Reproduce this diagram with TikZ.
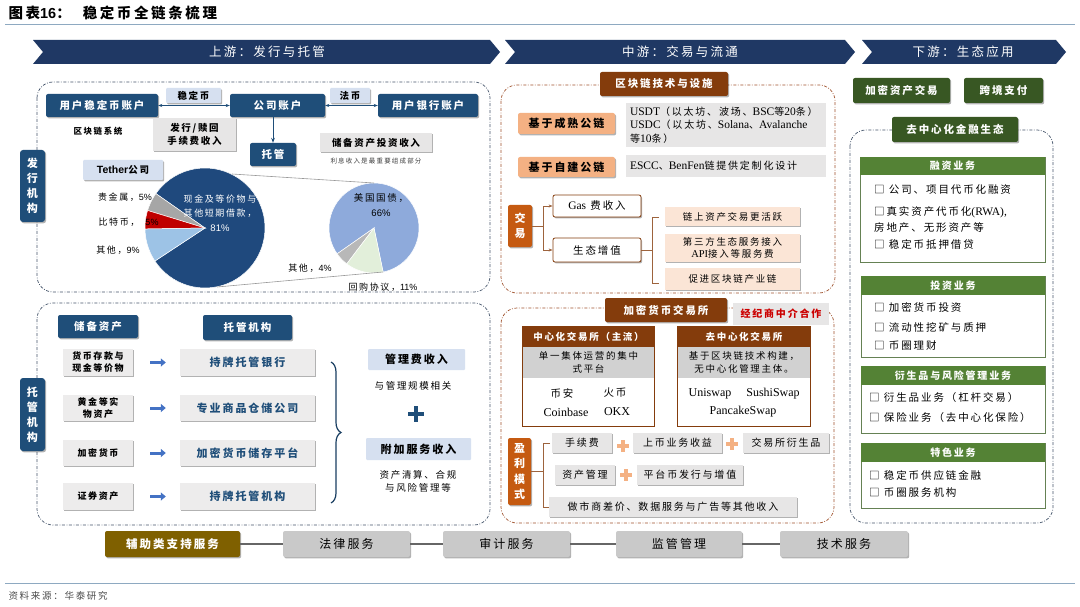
\documentclass[tikz,border=0pt]{standalone}
\usepackage{fontspec}
\setmainfont{Noto Sans CJK SC}[LetterSpace=18]
\newfontfamily\lat{Liberation Serif}
\newfontfamily\las{Liberation Sans}
\usetikzlibrary{shadows,arrows.meta,decorations.pathreplacing,calc}
\definecolor{navy}{HTML}{1F3864}
\definecolor{dblue}{HTML}{1F4E79}
\definecolor{lblue}{HTML}{D6E0F0}
\definecolor{lgray}{HTML}{E7E6E6}
\definecolor{brn}{HTML}{843C0C}
\definecolor{org}{HTML}{C55A11}
\definecolor{salmon}{HTML}{F4B183}
\definecolor{peach}{HTML}{FBE5D6}
\definecolor{dgreen}{HTML}{385723}
\definecolor{mgreen}{HTML}{548235}
\definecolor{olive}{HTML}{7F6000}
\definecolor{sgray}{HTML}{C9C9C9}
\definecolor{abl}{HTML}{4472C4}
\definecolor{pdk}{HTML}{1F497D}
\definecolor{plb}{HTML}{9DC3E6}
\definecolor{pred}{HTML}{C00000}
\definecolor{pgr}{HTML}{A6A6A6}
\definecolor{pbl}{HTML}{8EAADB}
\definecolor{pgn}{HTML}{E2EFDA}
\definecolor{rulec}{HTML}{8EA9C1}
\definecolor{regb}{HTML}{44546A}
\definecolor{regr}{HTML}{A0522D}
\newcommand\fs[2]{\fontsize{#1}{#2}\selectfont}
\newcommand\bx[7]{\node[minimum width={#5-#3},minimum height={#6-#4},inner sep=0pt,align=center,#2] (#1) at ({(#3+#5)/2},{(#4+#6)/2}) {#7};}
\newcommand\slice[6]{\fill[#6,draw=white,line width=.5pt] (#1,#2) -- plot[domain=#4:#5,samples=60] ({#1+#3*cos(\x)},{#2-#3*sin(\x)}) -- cycle;}
\begin{document}
\begin{tikzpicture}[x=1pt,y=-1pt,
 shd/.style={drop shadow={shadow xshift=1.2pt,shadow yshift=-1.4pt,opacity=.3,fill=black}},
 bbox/.style={fill=dblue,text=white,rounded corners=2pt,shd,font=\bfseries\fs{10.5}{13}},
 vbox/.style={fill=dblue,text=white,rounded corners=3pt,shd,font=\bfseries\fs{11}{15}},
 lbox/.style={fill=lblue,text=black,rounded corners=1pt,shd,font=\bfseries\fs{9.5}{11}},
 gbox/.style={fill=lgray,text=black,shd,font=\bfseries\fs{9.5}{13}},
 rowl/.style={fill=lgray!75,text=black,shd,font=\bfseries\fs{9}{12}},
 rowr/.style={fill=lgray!75,text=dblue,shd,font=\bfseries\fs{11}{13}},
 inc/.style={fill=lblue,text=black,rounded corners=1pt,font=\bfseries\fs{11}{12}},
 txt/.style={font=\fs{9}{12}},
 brbox/.style={fill=brn,text=white,rounded corners=2pt,shd,font=\bfseries\fs{10.5}{13}},
 obox/.style={fill=org,text=white,rounded corners=2pt,shd,font=\bfseries\fs{11}{15.5}},
 sbox/.style={fill=salmon,text=black,rounded corners=2pt,shd,font=\bfseries\fs{11}{13}},
 gtx/.style={fill=lgray,text=black,text width=192pt,align=left,font=\fs{10}{13.5}},
 wbox/.style={fill=white,draw=brn,line width=.8pt,rounded corners=2pt,shd,font=\fs{10.5}{13}},
 pbox/.style={fill=peach,shd,font=\fs{9.5}{12}},
 rbox/.style={fill=lgray,text=red!80!black,font=\bfseries\fs{10}{12}},
 hdr/.style={fill=brn,text=white,font=\bfseries\fs{9.5}{12}},
 band/.style={fill=black!18,text=black,font=\fs{9.5}{12.5}},
 pnlb/.style={fill=white,shd},
 mbox/.style={fill=lgray,shd,font=\fs{10}{12}},
 grbox/.style={fill=dgreen,text=white,rounded corners=2pt,shd,font=\bfseries\fs{10.5}{13}},
 pnl/.style={fill=white,draw=mgreen!60!gray,line width=.8pt,shd},
 pnlh/.style={fill=mgreen,text=white,font=\bfseries\fs{10}{12}},
 item/.style={anchor=west,inner sep=0pt,font=\fs{10.5}{15}},
 sv/.style={fill=sgray,text=black,rounded corners=2pt,shd,font=\fs{12}{13}},
 ol/.style={fill=olive,text=white,rounded corners=2pt,shd,font=\bfseries\fs{11.5}{13}},
 reg/.style={dash pattern=on 3pt off 1.6pt on .8pt off 1.6pt,line width=.7pt,rounded corners=16pt},
 brl/.style={brn!80,line width=.8pt},
 barr/.style={abl,line width=3pt,-{Triangle[length=5pt,width=8pt]}},
 dar/.style={dblue,line width=.7pt,{Stealth[length=4pt]}-{Stealth[length=4pt]}}
]
\useasboundingbox (0,0) rectangle (1080,607);
\fill[white] (0,0) rectangle (1080,607);
% title
\node[anchor=west,font=\bfseries\fs{14.5}{16}] (ttl) at (5,13) {图表{\las\bfseries 16}：\hspace{12pt}稳定币全链条梳理};
\draw[rulec,line width=1pt] (5,25) -- (1075,25);
\draw[rulec,line width=1pt] (5,583) -- (1075,583);
\node[anchor=west,font=\fs{9.5}{11},text=black!70] (src) at (5,596) {资料来源：华泰研究};
% banners
\fill[navy] (33,40) -- (490,40) -- (500,52) -- (490,64) -- (33,64) -- (43,52) -- cycle;
\fill[navy] (505,40) -- (845,40) -- (855,52) -- (845,64) -- (505,64) -- (515,52) -- cycle;
\fill[navy] (862,40) -- (1056,40) -- (1066,52) -- (1056,64) -- (862,64) -- (872,52) -- cycle;
\node[text=white,font=\fs{12.5}{14}] (bn1) at (267,52) {上游：发行与托管};
\node[text=white,font=\fs{12.5}{14}] (bn2) at (680,52) {中游：交易与流通};
\node[text=white,font=\fs{12.5}{14}] (bn3) at (963,52) {下游：生态应用};
% ===== upper left =====
\draw[reg,regb] (37,82) rectangle (490,292);
\draw[reg,regb] (37,303) rectangle (490,525);
\bx{ua}{bbox}{46}{94}{158}{117}{用户稳定币账户}
\bx{ca}{bbox}{230}{94}{325}{117}{公司账户}
\bx{ba}{bbox}{378}{94}{478}{117}{用户银行账户}
\draw[dar] (ua.east) -- (ca.west);
\draw[dar] (ca.east) -- (ba.west);
\bx{lw}{lbox}{166}{88}{221}{103}{稳定币}
\bx{lf}{lbox}{330}{88}{370}{103}{法币}
\node[font=\bfseries\fs{8.5}{10}] (bcs) at (98,131) {区块链系统};
\bx{fee}{gbox}{153}{118}{236}{151}{发行/赎回\\手续费收入}
\bx{tg}{bbox}{250}{143}{296}{166}{托管}
\draw[dblue,line width=.8pt,-{Stealth[length=5pt]}] (tg.north |- ca.south) -- (tg.north);
\bx{inv}{gbox}{320}{133}{432}{152}{储备资产投资收入}
\node[font=\fs{6.5}{8},text=black!75] (invn) at (376,161) {利息收入是最重要组成部分};
\bx{iss}{vbox}{20}{150}{45}{222}{发\\行\\机\\构}
\bx{teth}{lbox}{83}{160}{163}{180}{{\las\bfseries\fs{10.5}{12}Tether}公司}
% pies
\slice{205}{228}{60}{213.4}{505}{pdk}
\slice{205}{228}{60}{145}{163}{pgr}
\slice{205}{228}{60}{163}{181}{pred}
\slice{205}{228}{60}{181}{213.4}{plb}
\slice{374}{228}{45}{281.7}{575}{pbl}
\slice{374}{228}{45}{215}{232.8}{pgr!80}
\slice{374}{228}{45}{232.8}{281.7}{pgn}
\draw[black!40,line width=.6pt] (232,174) -- (374,183);
\draw[black!40,line width=.6pt] (217,287) -- (383,272);
\node[txt] (lgj) at (125,197) {贵金属，{\las 5\%}};
\node[txt] (lbtc) at (119,222) {比特币，};
\node[txt] (lbtc5) at (152,222) {\las 5\%};
\node[txt] (lqt) at (118,250) {其他，{\las 9\%}};
\node[text=white,align=center,font=\fs{9}{14.5}] (lcash) at (220,213) {现金及等价物与\\其他短期借款，\\{\las\fs{9.5}{14.5}81\%}};
\node[align=center,font=\fs{9.5}{15}] (lus) at (381,205) {美国国债，\\{\las 66\%}};
\node[txt] (lqt2) at (310,268) {其他，{\las 4\%}};
\node[txt] (lhg) at (383,287) {回购协议，{\las 11\%}};
% ===== lower left =====
\bx{tgj}{vbox}{20}{378}{45}{451}{托\\管\\机\\构}
\bx{hra}{bbox}{58}{315}{138}{338}{储备资产}
\bx{hcu}{bbox}{203}{315}{292}{340}{托管机构}
\bx{la}{rowl}{63}{349}{133}{376}{货币存款与\\现金等价物}
\bx{ra}{rowr}{180}{349}{315}{376}{持牌托管银行}
\bx{lb}{rowl}{63}{395}{133}{421}{黄金等实\\物资产}
\bx{rb}{rowr}{180}{395}{315}{421}{专业商品仓储公司}
\bx{lc}{rowl}{63}{440}{133}{466}{加密货币}
\bx{rc}{rowr}{180}{440}{315}{466}{加密货币储存平台}
\bx{ld}{rowl}{63}{483}{133}{510}{证券资产}
\bx{rd}{rowr}{180}{483}{315}{510}{持牌托管机构}
\foreach \a/\b in {la/ra,lb/rb,lc/rc,ld/rd}
  \draw[barr] ($(\a.east)+(17,0)$) -- ($(\b.west)+(-14,0)$);
\coordinate (bt) at (331,362);
\coordinate (bb) at (331,503);
\draw[decorate,decoration={brace,amplitude=10pt},dblue!80!black,line width=1.2pt] (bt) -- (bb);
\bx{mf}{inc}{368}{349}{465}{370}{管理费收入}
\node[font=\fs{9.5}{12}] (mft) at (413,386) {与管理规模相关};
\draw[dblue,line width=4pt] (408,414) -- (424,414) (416,406) -- (416,422);
\bx{af}{inc}{366}{438}{471}{460}{附加服务收入}
\node[align=center,font=\fs{9.5}{13}] (aft) at (418,481) {资产清算、合规\\与风险管理等};
% ===== middle upper =====
\draw[reg,regr] (501,85) rectangle (835,293);
\bx{bct}{brbox}{600}{72}{728}{96}{区块链技术与设施}
\bx{b1}{sbox}{518}{113}{615}{134}{基于成熟公链}
\bx{g1}{gtx}{626}{103}{826}{147}{{\lat\fs{11.5}{13.5}USDT}（以太坊、波场、{\lat\fs{11.5}{13.5}BSC}等{\lat\fs{11.5}{13.5}20}条）\\{\lat\fs{11.5}{13.5}USDC}（以太坊、{\lat\fs{11.5}{13.5}Solana}、{\lat\fs{11.5}{13.5}Avalanche}\\等{\lat\fs{11.5}{13.5}10}条）}
\bx{b2}{sbox}{518}{157}{615}{177}{基于自建公链}
\bx{g2}{gtx}{626}{155}{826}{177}{{\lat\fs{11.5}{13.5}ESCC}、{\lat\fs{11.5}{13.5}BenFen}链提供定制化设计}
\bx{jy}{obox}{508}{205}{532}{247}{交\\易}
\bx{gas}{wbox}{553}{195}{641}{217}{{\lat\fs{11.5}{13}Gas} 费收入}
\bx{eco}{wbox}{553}{238}{641}{262}{生态增值}
\coordinate (jx) at (543,226);
\draw[brl] (jy.east) -- (jx);
\draw[brl,-{Stealth[length=4pt]}] (jx) |- (gas.west);
\draw[brl,-{Stealth[length=4pt]}] (jx) |- (eco.west);
\coordinate (ek) at (652,250);
\draw[brl] (eco.east) -- (ek);
\draw[brl] (659,217) -- (652,217) -- (652,283) -- (659,283);
\bx{p1}{pbox}{665}{207}{800}{226}{链上资产交易更活跃}
\bx{p2}{pbox}{665}{234}{800}{262}{第三方生态服务接入\\{\lat\fs{10.5}{12}API}接入等服务费}
\bx{p3}{pbox}{665}{268}{800}{290}{促进区块链产业链}
% ===== middle lower =====
\draw[reg,regr] (501,308) rectangle (834,523);
\bx{cx}{brbox}{605}{298}{727}{322}{加密货币交易所}
\bx{brk}{rbox}{733}{303}{829}{325}{经纪商中介合作}
\bx{cex}{pnlb}{523}{327}{654}{426}{}
\bx{cexh}{hdr}{523}{327}{654}{347}{中心化交易所（主流）}
\bx{cexg}{band}{523}{347}{654}{378}{单一集体运营的集中\\式平台}
\draw[brn,line width=.8pt] (cex.north west) rectangle (cex.south east);
\node[font=\fs{10.5}{12}] (ba1) at (562,393) {币安};
\node[font=\fs{10.5}{12}] (hb1) at (615,393) {火币};
\node[font=\lat\fs{12}{12}] (cb1) at (566,412) {Coinbase};
\node[font=\lat\fs{12}{12}] (ok1) at (617,412) {OKX};
\bx{dex}{pnlb}{678}{327}{810}{426}{}
\bx{dexh}{hdr}{678}{327}{810}{347}{去中心化交易所}
\bx{dexg}{band}{678}{347}{810}{378}{基于区块链技术构建，\\无中心化管理主体。}
\draw[brn,line width=.8pt] (dex.north west) rectangle (dex.south east);
\node[font=\lat\fs{12}{12}] (uni) at (710,394) {Uniswap};
\node[font=\lat\fs{12}{12}] (ssw) at (773,394) {SushiSwap};
\node[font=\lat\fs{12}{12}] (pcs) at (743,412) {PancakeSwap};
\bx{ylm}{obox}{508}{438}{531}{505}{盈\\利\\模\\式}
\coordinate (yk) at (543,471.5);
\draw[brl] (ylm.east) -- (yk);
\draw[brl] (550,443) -- (543,443) -- (543,507) -- (550,507);
\bx{m1}{mbox}{552}{433}{612}{453}{手续费}
\bx{m2}{mbox}{633}{433}{722}{453}{上币业务收益}
\bx{m3}{mbox}{743}{433}{829}{453}{交易所衍生品}
\bx{m4}{mbox}{555}{465}{615}{485}{资产管理}
\bx{m5}{mbox}{637}{465}{743}{485}{平台币发行与增值}
\bx{m6}{mbox}{549}{497}{797}{517}{做市商差价、数据服务与广告等其他收入}
\draw[salmon,line width=3.5pt] (617,446) -- (629,446) (623,440) -- (623,452);
\draw[salmon,line width=3.5pt] (726,444) -- (738,444) (732,438) -- (732,450);
\draw[salmon,line width=3.5pt] (620,475) -- (632,475) (626,469) -- (626,481);
% ===== right =====
\bx{ca1}{grbox}{853}{78}{950}{103}{加密资产交易}
\bx{ca2}{grbox}{964}{78}{1043}{103}{跨境支付}
\draw[reg,regb] (850,130) rectangle (1053,523);
\bx{defi}{grbox}{892}{117}{1018}{142}{去中心化金融生态}
\bx{q1}{pnl}{860}{157}{1045}{262}{}
\bx{q1h}{pnlh}{860}{157}{1045}{175}{融资业务}
\node[item] (q1a) at (874,190) {□ 公司、项目代币化融资};
\node[item] (q1b) at (874,212) {□真实资产代币化{\lat\fs{11.5}{12}(RWA),}};
\node[item] (q1c) at (874,228) {房地产、无形资产等};
\node[item] (q1d) at (874,244) {□ 稳定币抵押借贷};
\bx{q2}{pnl}{861}{276}{1045}{357}{}
\bx{q2h}{pnlh}{861}{276}{1045}{295}{投资业务}
\node[item] (q2a) at (874,307) {□ 加密货币投资};
\node[item] (q2b) at (874,327) {□ 流动性挖矿与质押};
\node[item] (q2c) at (874,346) {□ 币圈理财};
\bx{q3}{pnl}{861}{366}{1045}{433}{}
\bx{q3h}{pnlh}{861}{366}{1045}{385}{衍生品与风险管理业务}
\node[item] (q3a) at (869,398) {□ 衍生品业务（杠杆交易）};
\node[item] (q3b) at (869,418) {□ 保险业务（去中心化保险）};
\bx{q4}{pnl}{861}{443}{1045}{508}{}
\bx{q4h}{pnlh}{861}{443}{1045}{462}{特色业务}
\node[item] (q4a) at (869,475) {□ 稳定币供应链金融};
\node[item] (q4b) at (869,493) {□ 币圈服务机构};
% ===== bottom bar =====
\bx{s0}{ol}{105}{531}{240}{557}{辅助类支持服务}
\bx{s1}{sv}{283}{531}{410}{557}{法律服务}
\bx{s2}{sv}{443}{531}{570}{557}{审计服务}
\bx{s3}{sv}{616}{531}{742}{557}{监管管理}
\bx{s4}{sv}{780}{531}{908}{557}{技术服务}
\draw[black!60,line width=1.5pt] (s0.east) -- (s1.west);
\draw[black!60,line width=1.5pt] (s1.east) -- (s2.west);
\draw[black!60,line width=1.5pt] (s2.east) -- (s3.west);
\draw[black!60,line width=1.5pt] (s3.east) -- (s4.west);
\end{tikzpicture}
\end{document}
